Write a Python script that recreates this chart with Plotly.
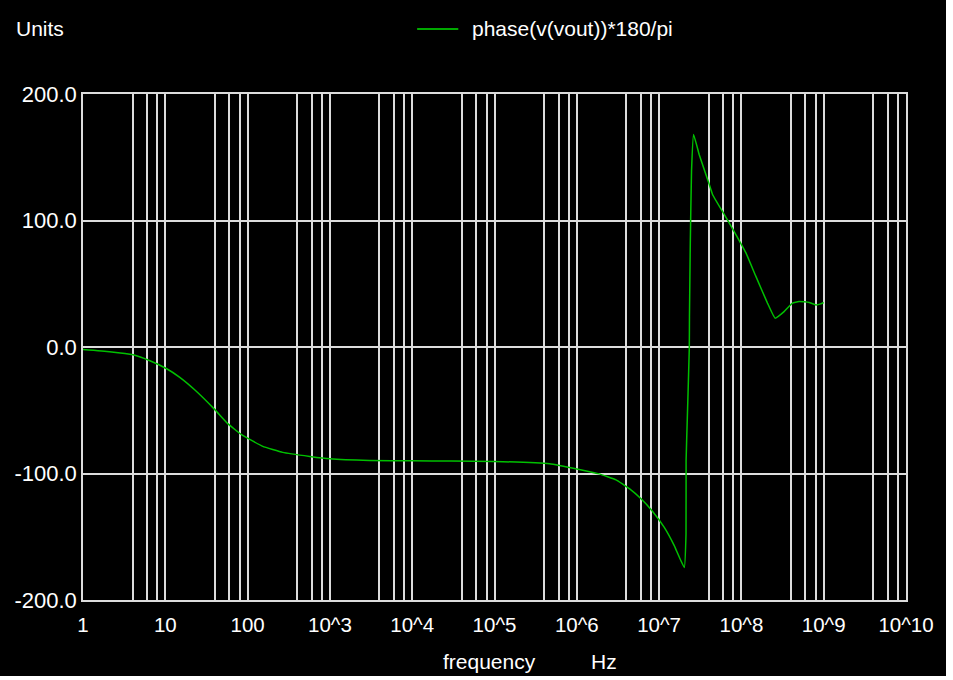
import plotly.graph_objects as go

# ---- data ----
freq_hz = [1, 2.1, 4.07, 6.5, 10.4, 15.0, 22.9, 40.0, 57.5, 84.3, 153, 267, 569, 1000,
           3040, 1e4, 3e4, 1e5, 4.65e5, 1.07e6, 1.86e6, 3.0e6, 4.35e6, 6.03e6, 8.34e6,
           1.156e7, 1.528e7, 2.023e7, 2.123e7, 2.128e7, 2.198e7, 2.328e7, 2.339e7,
           2.393e7, 2.477e7, 2.624e7, 3.076e7, 4.064e7, 4.457e7, 6.18e7, 8.57e7,
           1.135e8, 1.5e8, 2.075e8, 2.57e8, 3.30e8, 4.17e8, 5.01e8, 6.65e8, 8.02e8,
           9.2e8, 1e9]
phase_deg = [-2.0, -3.7, -6.2, -10.9, -17.2, -24, -34, -49.5, -60.6, -69.3, -78.6,
             -83.3, -86.5, -88.4, -89.7, -90.0, -90.1, -90.5, -92.3, -96.8, -100.3,
             -105, -112, -120, -130, -142.6, -157, -174.4, -148, -90, -58, -1, 24,
             82, 139, 168, 152, 128.6, 120.6, 104.8, 88.9, 74.4, 55.8, 34.7, 22.8,
             28, 34.7, 36, 35.2, 33.3, 34.1, 35.2]

x_tick_vals = [1, 10, 100, 1e3, 1e4, 1e5, 1e6, 1e7, 1e8, 1e9, 1e10]
x_tick_text = ["1", "10", "100", "10^3", "10^4", "10^5", "10^6", "10^7", "10^8",
               "10^9", "10^10"]
x_grid_mult = [1, 4, 6, 8]
y_tick_vals = [-200, -100, 0, 100, 200]
y_tick_text = ["-200.0", "-100.0", "0.0", "100.0", "200.0"]
series_name = "phase(v(vout))*180/pi"

# grid positions: 1,4,6,8 in every decade; labels only on decades
grid_vals, grid_text = [], []
for dv, dt in zip(x_tick_vals, x_tick_text):
    for m in x_grid_mult:
        v = dv * m
        if v <= 1e10:
            grid_vals.append(v)
            grid_text.append(dt if m == 1 else "")

FONT = "Liberation Sans, Arial, sans-serif"
GRID = "#dcdcdc"

fig = go.Figure()
fig.add_trace(go.Scatter(x=freq_hz, y=phase_deg, mode="lines", name=series_name,
                         line=dict(color="#00c000", width=1.5, shape="spline",
                                   smoothing=0.3),
                         showlegend=False, hoverinfo="skip"))

fig.update_layout(
    width=946, height=676,
    paper_bgcolor="black", plot_bgcolor="black",
    margin=dict(l=83, r=38, t=94, b=76),
    font=dict(family=FONT, size=21, color="white"),
    xaxis=dict(type="log", range=[0, 10], tickmode="array", tickvals=grid_vals,
               ticktext=grid_text, showgrid=True, gridcolor=GRID, gridwidth=1.5,
               showline=True, linecolor=GRID, linewidth=1.5, mirror=True,
               zeroline=False, ticks="", ticklabelstandoff=6,
               tickfont=dict(size=20.5, color="white")),
    yaxis=dict(range=[-200, 200], tickmode="array", tickvals=y_tick_vals,
               ticktext=y_tick_text, showgrid=True, gridcolor=GRID, gridwidth=1.5,
               showline=True, linecolor=GRID, linewidth=1.5, mirror=True,
               zeroline=False, ticks="", tickfont=dict(size=22, color="white")),
    shapes=[dict(type="line", xref="paper", yref="paper", x0=0.406, x1=0.456,
                 y0=1.1285, y1=1.1285, line=dict(color="#00a800", width=2))],
    annotations=[
        dict(text="Units", xref="paper", yref="paper", x=-0.052, y=1.130,
             showarrow=False, xanchor="center", yanchor="middle"),
        dict(text=series_name, xref="paper", yref="paper", x=0.4703, y=1.1285,
             showarrow=False, xanchor="left", yanchor="middle"),
        dict(text="frequency", xref="paper", yref="paper", x=0.494, y=-0.1225,
             showarrow=False, xanchor="center", yanchor="middle"),
        dict(text="Hz", xref="paper", yref="paper", x=0.633, y=-0.1225,
             showarrow=False, xanchor="center", yanchor="middle"),
    ],
)

fig.write_html("out.html", config={"displayModeBar": False},
               post_script="document.body.style.margin='0';")
